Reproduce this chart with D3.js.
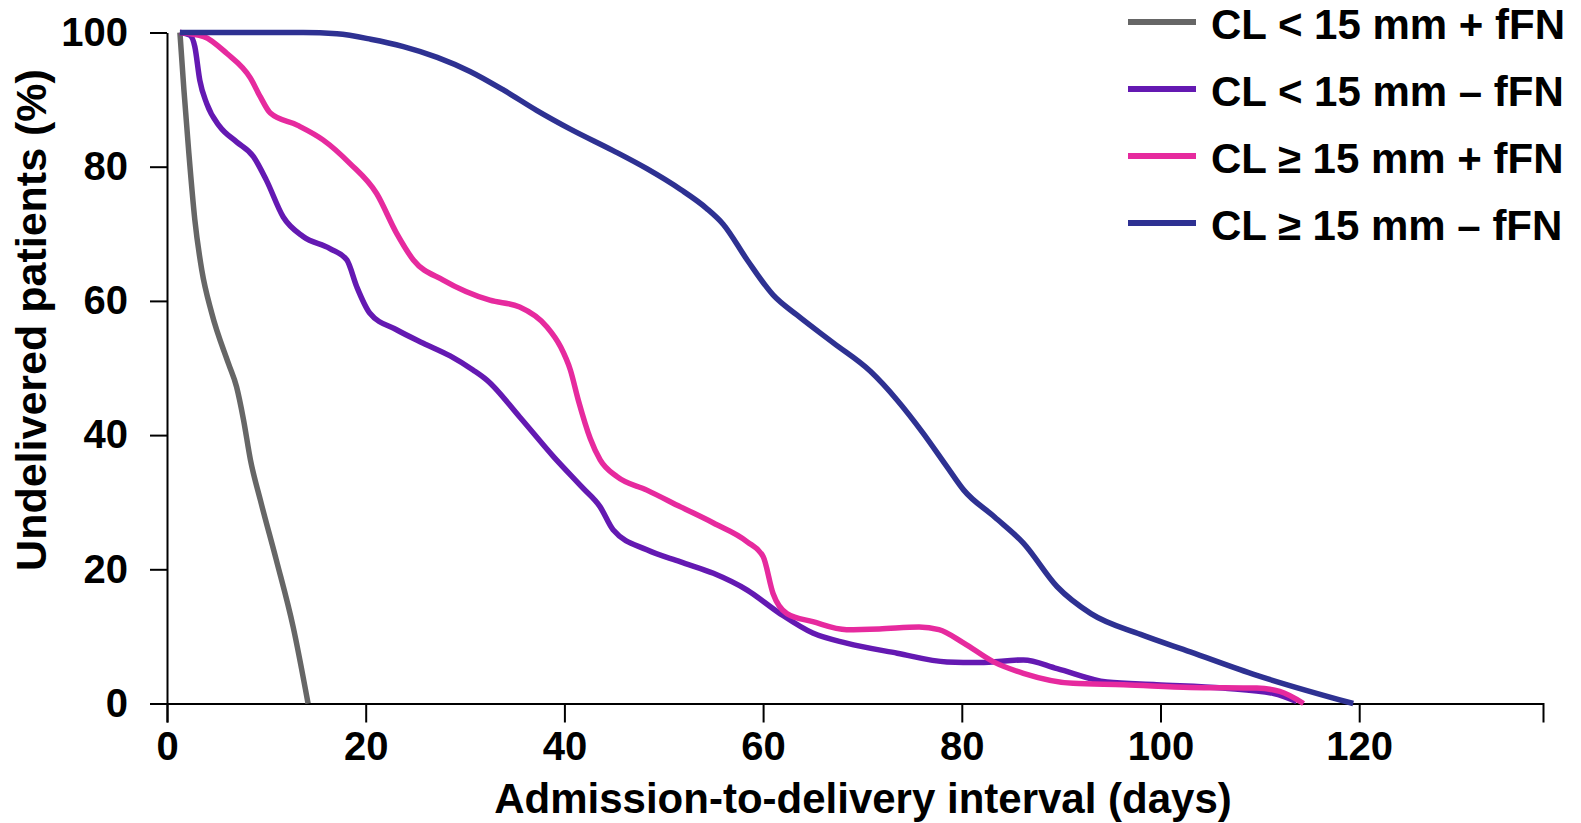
<!DOCTYPE html>
<html>
<head>
<meta charset="utf-8">
<title>Undelivered patients</title>
<script src="https://cdn.jsdelivr.net/npm/d3@7"></script>
<style>
    body{
        margin:0;
        background:#fff;
    }
    text{
        font-family:"Liberation Sans", Arial, sans-serif;
        font-weight:bold;
        fill:#000;
    }
    .axis path, .axis line{
        stroke:#000;
        stroke-width:2px;
    }
    .curve{
        fill:none;
        stroke-width:5.5px;
        stroke-linejoin:round;
        stroke-linecap:butt;
    }
</style>
</head>
<body>
<svg id="chart" width="1581" height="823"></svg>
<script>

// ---------------- data (days, % undelivered) ----------------
var seriesNames = ["CL < 15 mm + fFN", "CL < 15 mm \u2013 fFN", "CL \u2265 15 mm + fFN", "CL \u2265 15 mm \u2013 fFN"];
var seriesColors = ["#666666", "#6419b2", "#e62a9e", "#2e3192"];

var clShortPos = [[1.3,100],[1.7,91.5],[2.2,82],[2.8,72.1],[3.5,64.6],[4.5,58.2],[6.2,50.6],[7,47.2],
    [7.7,42.3],[8.4,36.3],[9.4,30.3],[11,21.4],[12.7,11.4],[14.2,0]];

var clShortNeg = [[1.3,100],[2.3,99.6],[2.8,97.9],[3.3,92.9],[4,89.4],[5.3,86],[7,83.7],[8.7,81.5],
    [10,78],[11.7,72.5],[13.7,69.6],[16.4,67.8],[18.1,66.1],[19.1,62.1],[20.4,58.2],[23.1,55.7],
    [25.8,53.7],[28.5,51.8],[30.8,49.7],[32.2,48.2],[35.5,42.7],[38.9,36.8],[41.8,32.2],[43.6,29.3],
    [44.9,25.9],[48.3,22.9],[51.7,21.1],[55,19.4],[58.4,16.9],[61.7,13.4],[65,10.5],[68.4,9],
    [73.5,7.5],[78.5,6.2],[81.8,6.1],[86.2,6.5],[89.6,5.2],[94.6,3.2],[99.6,2.8],[106.3,2.3],
    [111.4,1.5],[113.7,0.3]];

var clLongPos = [[1.3,100],[3.7,99.4],[6,96.9],[8.4,93.2],[9.4,90.4],[10.4,88],[13.1,86.2],[15.7,84],
    [18.4,80.5],[21.1,76],[23.1,70.1],[24.8,66.1],[27.8,63.1],[32.5,60.1],[35.5,59.1],[38.2,56.2],
    [39.6,53.2],[40.6,49.7],[41.4,45.2],[42.6,39.5],[43.6,36.3],[45.3,33.8],[48.3,31.8],[51.7,29.3],
    [55,26.9],[58.4,24.1],[60,21.9],[61,16.4],[62.4,13.4],[65,12.2],[68.4,11],[71.7,11.1],[75.7,11.4],
    [77.7,11],[80.2,9],[83.2,6.2],[86.2,4.5],[91.2,3],[96.3,2.8],[103,2.4],[109.7,2.3],[112,1.8],
    [114.4,0]];

var clLongNeg = [[1.3,100],[7,100],[13.7,100],[17.1,99.8],[20.5,99],[23.8,97.9],[27.2,96.3],[30.5,94.2],
    [33.9,91.4],[37.2,88.4],[40.6,85.6],[44.9,82.4],[48.3,79.7],[51.7,76.6],[54.3,73.8],[56,71.4],
    [58.4,66.1],[61,60.9],[63.4,57.9],[67.1,53.7],[70.8,49.5],[73.5,45.2],[76.1,40.3],[78.5,35.3],
    [80.2,31.8],[83.3,27.8],[86.2,23.9],[89.6,17.4],[93,13.4],[98,10.3],[103,7.7],[109.7,4.2],
    [119.4,0]];

var allSeries = [clShortPos, clShortNeg, clLongPos, clLongNeg];

var xTicks = [0, 20, 40, 60, 80, 100, 120];
var yTicks = [0, 20, 40, 60, 80, 100];
var xMax = 138.5;

// ---------------- layout ----------------
var svg = d3.select("#chart");

var plotLeft = 167, plotRight = 1543, plotTop = 32.5, plotBottom = 703.5;

var xScale = d3.scaleLinear()
                .domain([0, xMax])
                .range([plotLeft, plotRight]);

var yScale = d3.scaleLinear()
                .domain([0, 100])
                .range([plotBottom, plotTop]);

// ---------------- axes ----------------
var xAxis = d3.axisBottom(xScale)
                .tickValues(xTicks)
                .tickSize(19)
                .tickSizeOuter(19)
                .tickPadding(9);

var yAxis = d3.axisLeft(yScale)
                .tickValues(yTicks)
                .tickSize(17)
                .tickSizeOuter(0)
                .tickPadding(22);

var gx = svg.append("g")
            .attr("class", "axis")
            .attr("transform", "translate(0," + plotBottom + ")")
            .call(xAxis);

var gy = svg.append("g")
            .attr("class", "axis")
            .attr("transform", "translate(" + plotLeft + ",0)")
            .call(yAxis);

svg.selectAll(".axis text")
    .attr("font-size", "40px")
    .style("font-family", "'Liberation Sans', Arial, sans-serif")
    .style("font-weight", "bold")
    .attr("fill", "#000");

// axis titles
svg.append("text")
    .text("Admission-to-delivery interval (days)")
    .attr("font-size", "42px")
    .attr("text-anchor", "middle")
    .attr("x", 863)
    .attr("y", 813);

svg.append("text")
    .text("Undelivered patients (%)")
    .attr("font-size", "43px")
    .attr("text-anchor", "middle")
    .attr("transform", "translate(46,320) rotate(-90)");

// ---------------- curves ----------------
var line = d3.line()
            .x(function(d){ return xScale(d[0]); })
            .y(function(d){ return yScale(d[1]); })
            .curve(d3.curveMonotoneX);

svg.selectAll(".curve")
    .data(allSeries)
    .enter()
    .append("path")
    .attr("class", "curve")
    .attr("d", line)
    .attr("stroke", function(d, i){ return seriesColors[i]; });

// ---------------- legend ----------------
var legend = svg.append("g")
                .attr("transform", "translate(1128,22)");

var item = legend.selectAll(".item")
                .data(seriesNames)
                .enter()
                .append("g")
                .attr("class", "item")
                .attr("transform", function(d, i){ return "translate(0," + (i * 67) + ")"; });

item.append("line")
    .attr("x1", 0)
    .attr("x2", 68)
    .attr("y1", 0)
    .attr("y2", 0)
    .attr("stroke-width", 6)
    .attr("stroke", function(d, i){ return seriesColors[i]; });

item.append("text")
    .text(function(d){ return d; })
    .attr("font-size", "42px")
    .attr("x", 83)
    .attr("y", 17);

</script>
</body>
</html>
